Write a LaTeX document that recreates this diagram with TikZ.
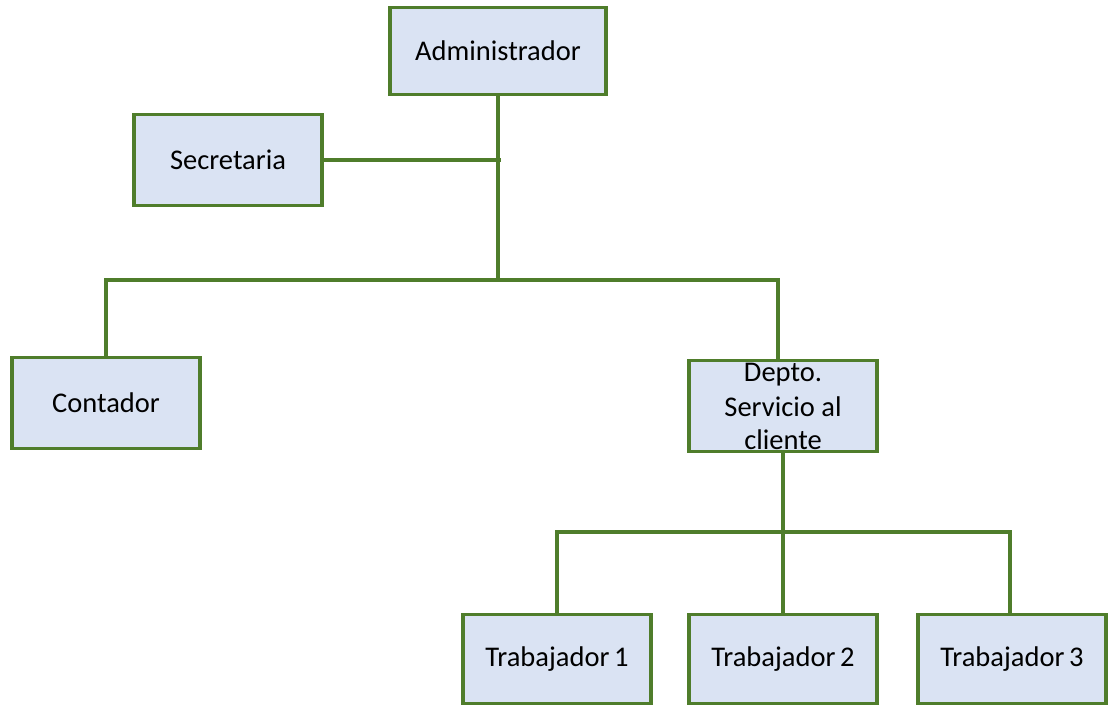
\documentclass[tikz,border=0pt]{standalone}
\usepackage{fontspec}
\setmainfont{Carlito}
\usetikzlibrary{positioning, calc}

\definecolor{boxfill}{HTML}{DAE3F3}
\definecolor{boxline}{HTML}{4F7D2B}

\begin{document}
\begin{tikzpicture}[
				x=1pt, y=-1pt,
				puesto/.style={draw=boxline, fill=boxfill, line width=3.5pt,
					minimum width=188pt, minimum height=91pt, inner sep=0pt,
					font=\fontsize{28.5}{35}\selectfont, align=center},
				enlace/.style={draw=boxline, line width=3.5pt}
				]
				\useasboundingbox (0,0) rectangle (1108,705);
				% niveles superiores
				\node[puesto, minimum width=216pt, minimum height=87pt] (admin) at (498,51) {Administrador};
				\node[puesto] (secre) at (228,160) {Secretaria};
				\node[puesto] (conta) at (106,403) {Contador};
				\node[puesto] (depto) at (783,406) {Depto.\\[0pt]Servicio al\\[-2pt]cliente};
				% trabajadores
				\node[puesto, minimum height=89pt] (trab1) at (557,659) {Trabajador\,1};
				\node[puesto, minimum height=89pt] (trab2) at (783,659) {Trabajador\,2};
				\node[puesto, minimum height=89pt] (trab3) at (1012,659) {Trabajador\,3};
				\coordinate (rama1) at (498,280);
				\coordinate (rama2) at (783,532);
				% conectores
				\draw[enlace] (admin.south) -- (rama1);
				\draw[enlace] (secre.east) -- ($(secre.east -| admin.south)+(3,0)$);
				\draw[enlace] (rama1) -| (conta.north);
				\draw[enlace] (rama1) -| ([xshift=-5pt]depto.north);
				\draw[enlace] (depto.south) -- (rama2);
				\draw[enlace] (rama2) -| (trab1.north);
				\draw[enlace] (rama2) -- (trab2.north);
				\draw[enlace] (rama2) -| ([xshift=-2pt]trab3.north);
			\end{tikzpicture}
\end{document}
